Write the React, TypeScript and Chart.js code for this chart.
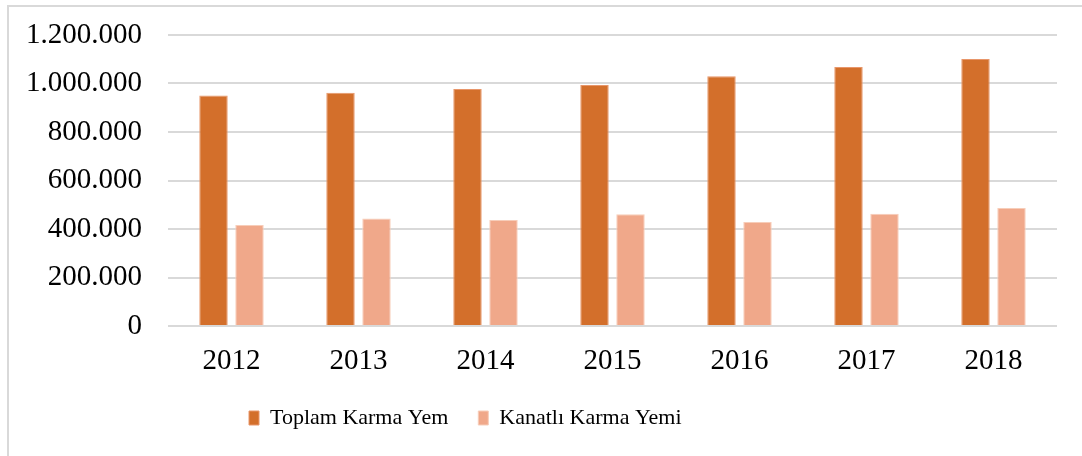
import React, { useEffect, useRef } from "react";
import { Chart, registerables } from "chart.js";

Chart.register(...registerables);

const years = ["2012", "2013", "2014", "2015", "2016", "2017", "2018"];
const toplamKarmaYem = [951000, 962000, 977000, 994000, 1030000, 1068000, 1101000];
const kanatliKarmaYemi = [416000, 443000, 437000, 461000, 429000, 463000, 487000];
const seriesNames = ["Toplam Karma Yem", "Kanatlı Karma Yemi"];
const yMax = 1200000;
const yStep = 200000;

const fmt = (v: number) => String(Math.round(v)).replace(/\B(?=(\d{3})+(?!\d))/g, ".");

const LEGEND_FONT = 22;
const LEGEND_PAD = 30;

const legendShift = {
  id: "legendShift",
  afterLayout(chart: any) {
    const l = chart.legend;
    if (!l || !l.lineWidths) return;
    const W = l.lineWidths[0];
    const pad = LEGEND_PAD;
    const curStart = (l.left + pad + l.right - W) / 2;
    const dx = 249 - curStart;
    l.left += dx;
    l.right += dx;
    const newTop = 418 - pad - LEGEND_FONT / 2;
    const dy = newTop - l.top;
    l.top += dy;
    l.bottom += dy;
  },
};

const FAMILY = "'Liberation Serif', 'Times New Roman', serif";

export default function App() {
  const ref = useRef<HTMLCanvasElement | null>(null);
  useEffect(() => {
    if (!ref.current) return;
    Chart.defaults.font.family = FAMILY;
    Chart.defaults.font.size = 29;
    Chart.defaults.color = "#000";
    const chart = new Chart(ref.current, {
      type: "bar",
      data: {
        labels: years,
        datasets: [
          {
            label: seriesNames[0],
            data: toplamKarmaYem,
            backgroundColor: "#D36F2B",
            borderColor: "#E8966A",
            borderWidth: 1,
            categoryPercentage: 0.567,
            barPercentage: 0.79,
          },
          {
            label: seriesNames[1],
            data: kanatliKarmaYemi,
            backgroundColor: "#F0A88A",
            borderColor: "#F7CDB9",
            borderWidth: 1,
            categoryPercentage: 0.567,
            barPercentage: 0.79,
          },
        ],
      },
      plugins: [legendShift],
      options: {
        responsive: false,
        animation: false,
        layout: { padding: { left: 0, right: 25, top: 35, bottom: 10 } },
        plugins: {
          tooltip: { enabled: false },
          legend: {
            position: "bottom",
            labels: {
              font: { family: FAMILY, size: LEGEND_FONT },
              color: "#000",
              boxWidth: 10,
              boxHeight: 14,
              padding: LEGEND_PAD,
            },
          },
        },
        scales: {
          x: {
            grid: { display: false, drawTicks: false },
            border: { display: false },
            afterFit(scale: any) {
              scale.height = 58;
            },
            ticks: { font: { family: FAMILY, size: 29 }, color: "#000", padding: 18 },
          },
          y: {
            min: 0,
            max: yMax,
            afterFit(scale: any) {
              scale.width = 168;
              scale.paddingTop = 0;
              scale.paddingBottom = 0;
            },
            ticks: {
              stepSize: yStep,
              font: { family: FAMILY, size: 29 },
              color: "#000",
              padding: 26,
              callback: (v: any) => fmt(Number(v)),
            },
            grid: { color: "#D9D9D9", lineWidth: 2, drawTicks: false },
            border: { display: false },
          },
        },
      },
    });
    return () => chart.destroy();
  }, []);
  return (
    <div style={{ position: "fixed", left: 0, top: 0, width: 1082, height: 456, overflow: "hidden", background: "#fff" }}>
      <div
        style={{
          position: "absolute",
          left: 7,
          top: 5,
          width: 1200,
          height: 600,
          borderLeft: "2px solid #D9D9D9",
          borderTop: "2px solid #D9D9D9",
        }}
      />
      <canvas ref={ref} width={1082} height={456} style={{ position: "absolute", left: 0, top: 0 }} />
    </div>
  );
}
